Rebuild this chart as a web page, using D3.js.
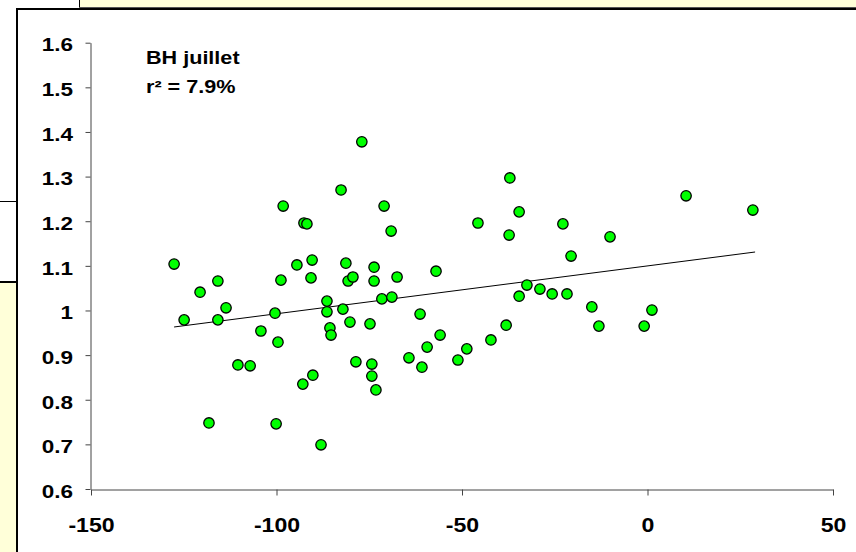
<!DOCTYPE html>
<html><head><meta charset="utf-8">
<script src="https://cdn.jsdelivr.net/npm/d3@7"></script>
<style>body{margin:0;background:#fff}svg{display:block}</style>
</head><body><div id="chart"></div>
<script>
// ---- data ----
const xVals = [-127.6,-124.9,-120.6,-115.8,-115.8,-113.6,-118.2,-110.4,-107.1,
  -104.2,-100.4,-99.6,-100.1,-98.8,-98.2,-94.5,
  -92.6,-91.8,-90.4,-90.7,-92.9,-90.2,-88.0,-86.4,-86.4,-85.6,-85.3,
  -82.6,-82.1,-81.3,-80.7,-80.2,-79.4,-78.6,-77.0,-74.8,-73.7,-73.7,-74.3,-74.3,-73.2,-71.6,-71.0,-69.1,-68.9,-67.5,
  -64.3,-61.3,-60.8,-59.4,-57.0,-55.9,-51.1,-48.7,-45.7,-42.2,
  -38.1,-37.3,-37.1,-34.6,-34.6,-32.5,-29.0,-25.7,-22.8,-21.7,-20.6,-15.0,-13.1,-10.1,-0.9,1.2,10.4,28.4];
const yVals = [1.104,0.979,1.041,1.066,0.979,1.006,0.748,0.878,0.876,
  0.954,0.994,0.929,0.746,1.068,1.234,1.102,
  1.196,1.194,1.113,1.073,0.835,0.855,0.699,1.021,0.997,0.961,0.945,
  1.270,1.003,1.106,1.066,0.974,1.075,0.885,1.378,0.970,1.097,1.066,0.880,0.853,0.822,1.026,1.234,1.178,1.030,1.075,
  0.894,0.992,0.873,0.918,1.088,0.945,0.889,0.914,1.196,0.934,
  0.967,1.169,1.297,1.221,1.032,1.057,1.048,1.037,1.194,1.037,1.122,1.008,0.965,1.165,0.965,1.001,1.257,1.225];
const trendX = [-127.6, 29.0];
const trendY = [0.963, 1.131];
const xTicks = [-150, -100, -50, 0, 50];
const xTickLabels = ["-150", "-100", "-50", "0", "50"];
const yTicks = [0.6, 0.7, 0.8, 0.9, 1.0, 1.1, 1.2, 1.3, 1.4, 1.5, 1.6];
const yTickLabels = ["0.6", "0.7", "0.8", "0.9", "1", "1.1", "1.2", "1.3", "1.4", "1.5", "1.6"];
const titleLines = ["BH juillet", "r\u00B2 = 7.9%"];

// ---- drawing ----
const W = 856, H = 552;
const FONT = "'Liberation Sans', Arial, sans-serif";
const svg = d3.select("#chart").append("svg").attr("width", W).attr("height", H);

// background / frame decoration
svg.append("rect").attr("x", 0).attr("y", 0).attr("width", W).attr("height", H).attr("fill", "#fff");
svg.append("rect").attr("x", 79).attr("y", 0).attr("width", W - 79).attr("height", 8).attr("fill", "#FFFFD9");
svg.append("rect").attr("x", 0).attr("y", 282).attr("width", 16).attr("height", H - 282).attr("fill", "#FFFFD9");
svg.append("line").attr("x1", 79.5).attr("x2", 79.5).attr("y1", 0).attr("y2", 9).attr("stroke", "#000");
svg.append("line").attr("x1", 79).attr("x2", W).attr("y1", 7.5).attr("y2", 7.5).attr("stroke", "#555");
svg.append("line").attr("x1", 16).attr("x2", W).attr("y1", 9).attr("y2", 9).attr("stroke", "#000").attr("stroke-width", 2);
svg.append("line").attr("x1", 17).attr("x2", 17).attr("y1", 8).attr("y2", H).attr("stroke", "#000").attr("stroke-width", 2);
svg.append("line").attr("x1", 0).attr("x2", 16).attr("y1", 201.5).attr("y2", 201.5).attr("stroke", "#000");
svg.append("line").attr("x1", 0).attr("x2", 16).attr("y1", 282).attr("y2", 282).attr("stroke", "#000").attr("stroke-width", 2);

const x = d3.scaleLinear().domain([-150, 50]).range([91, 833]);
const y = d3.scaleLinear().domain([0.6, 1.6]).range([489, 42.7]);

// y axis
const yAxis = svg.append("g").attr("transform", "translate(90.5,0)")
  .call(d3.axisLeft(y).tickValues(yTicks).tickSize(5).tickSizeOuter(0)
    .tickFormat((d, i) => yTickLabels[i]));
yAxis.selectAll("path,line").attr("stroke", "#444");
yAxis.selectAll("text")
  .attr("x", -17.5 / 1.25).attr("dy", "0.46em")
  .attr("transform", "scale(1.25,1)")
  .attr("fill", "#000").style("font-family", FONT).style("font-size", "18px").style("font-weight", "bold");

// x axis
const xAxis = svg.append("g").attr("transform", "translate(0,489.5)")
  .call(d3.axisBottom(x).tickValues(xTicks).tickSize(6).tickSizeOuter(0)
    .tickFormat((d, i) => xTickLabels[i]));
xAxis.selectAll("path,line").attr("stroke", "#444");
xAxis.selectAll("text")
  .attr("y", 42.5).attr("dy", 0)
  .attr("transform", "scale(1.1,1)")
  .attr("fill", "#000").style("font-family", FONT).style("font-size", "21px").style("font-weight", "bold");

// trend line
const pts = trendX.map((v, i) => [v, trendY[i]]);
svg.append("path").datum(pts)
  .attr("d", d3.line().x(d => x(d[0])).y(d => y(d[1])))
  .attr("fill", "none").attr("stroke", "#000").attr("stroke-width", 1);

// points
svg.append("g").selectAll("circle").data(xVals.map((v, i) => [v, yVals[i]]))
  .join("circle")
  .attr("cx", d => x(d[0])).attr("cy", d => y(d[1])).attr("r", 5.2)
  .attr("fill", "#00FF00").attr("stroke", "#000").attr("stroke-width", 1.3);

// annotation
svg.append("g").selectAll("text").data(titleLines).join("text")
  .attr("transform", (d, i) => `translate(146,${64 + i * 29}) scale(1.2,1)`)
  .text(d => d)
  .attr("fill", "#000").style("font-family", FONT).style("font-size", "18px").style("font-weight", "bold");
</script>
</body></html>
